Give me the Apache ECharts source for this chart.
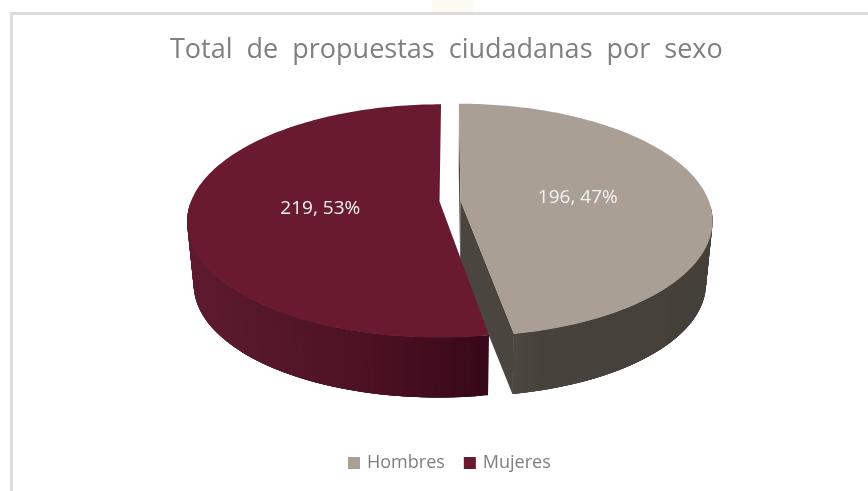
<!DOCTYPE html>
<html>
<head>
<meta charset="utf-8">
<script src="https://cdn.jsdelivr.net/npm/echarts@6/dist/echarts.min.js"></script>
<style>
  html, body { margin: 0; padding: 0; background: #fff; }
  #chart { width: 868px; height: 491px; }
</style>
</head>
<body>
<div id="chart"></div>
<script>
const categories = ['Hombres', 'Mujeres'];
const values = [196, 219];
const topColors = ['#A99F94', '#6A1A2E'];
const faceColors = ['#4A463F', null];
const wallStops = [
  ['#5A564E', '#47433C', '#46423B', '#45413A'],
  ['#5E1B30', '#541628', '#4A1022', '#38091A']
];
const labelRadius = [0.478, 0.478];

const total = values.reduce((a, b) => a + b, 0);

// pie disc seen in perspective
const view = { cx: 450, cy: 201, a: 248.4, b: 113.2, k: 0.1674, explode: 0.0423 };
const base = { scale: 0.975, drop: 63.4 };

function project(u, v, scale, drop) {
  const w = 1 - view.k * v;
  return [
    view.cx + scale * view.a * u / w,
    view.cy + drop + scale * view.b * v / w
  ];
}

function buildSlice(index) {
  let before = 0;
  for (let i = 0; i < index; i++) before += values[i];
  const start = before / total * Math.PI * 2;
  const end = (before + values[index]) / total * Math.PI * 2;
  const mid = (start + end) / 2;
  const du = Math.sin(mid) * view.explode;
  const dv = -Math.cos(mid) * view.explode;

  const onDisc = (angle, r, scale, drop) =>
    project(du + r * Math.sin(angle), dv - r * Math.cos(angle), scale, drop);

  const topArc = [];
  const baseArc = [];
  const angles = [];
  const steps = 160;
  for (let i = 0; i <= steps; i++) {
    const t = start + (end - start) * i / steps;
    angles.push(t);
    topArc.push(onDisc(t, 1, 1, 0));
    baseArc.push(onDisc(t, 1, base.scale, base.drop));
  }
  const apexTop = onDisc(mid, 0, 1, 0);
  const apexBase = onDisc(mid, 0, base.scale, base.drop);

  const children = [];
  if (faceColors[index]) {
    children.push(
      { type: 'polygon', shape: { points: [apexTop, topArc[0], baseArc[0], apexBase] },
        style: { fill: faceColors[index] } },
      { type: 'polygon', shape: { points: [apexTop, topArc[steps], baseArc[steps], apexBase] },
        style: { fill: faceColors[index] } }
    );
  }

  // outer wall, strips overlap the next one so no seams show
  const xs = topArc.map(p => p[0]);
  const minX = Math.min(...xs);
  const maxX = Math.max(...xs);
  const overlap = 4;
  for (let i = 0; i < steps; i++) {
    if (-Math.cos(angles[i]) < 0.05 && -Math.cos(angles[i + 1]) < 0.05) continue;
    const j = Math.min(i + overlap, steps);
    const frac = (topArc[i][0] - minX) / (maxX - minX);
    children.push({
      type: 'polygon',
      shape: { points: [topArc[i], topArc[j], baseArc[j], baseArc[i]] },
      style: { fill: echarts.color.lerp(frac, wallStops[index]) }
    });
  }

  children.push({
    type: 'polygon',
    shape: { points: [apexTop].concat(topArc) },
    style: { fill: topColors[index] }
  });

  const label = values[index] + ', ' + Math.round(values[index] / total * 100) + '%';
  const labelPos = onDisc(mid, labelRadius[index], 1, 0);
  children.push({
    type: 'text', x: labelPos[0], y: labelPos[1] + 2,
    style: { text: label, fill: '#F2F2F2', font: '19px "Open Sans"', align: 'center', verticalAlign: 'middle' }
  });

  return { type: 'group', children: children };
}

const chart = echarts.init(document.getElementById('chart'), null, { renderer: 'canvas' });
chart.setOption({
  animation: false,
  backgroundColor: '#fff',
  title: {
    text: 'Total  de  propuestas  ciudadanas  por  sexo',
    left: 165,
    top: 32,
    textStyle: { color: '#7F7F7F', fontSize: 27, fontWeight: 'normal', fontFamily: 'Open Sans' }
  },
  legend: {
    data: categories,
    left: 343,
    top: 449,
    icon: 'rect',
    itemWidth: 12,
    itemHeight: 12,
    itemGap: 19,
    selectedMode: false,
    textStyle: { color: '#7F7F7F', fontSize: 18, fontFamily: 'Open Sans', padding: [0, 0, 0, 2] }
  },
  graphic: [
    // outer frame, open at right and bottom
    { type: 'rect', shape: { x: 10, y: 12, width: 858, height: 3 }, style: { fill: '#DCDCDC' } },
    { type: 'rect', shape: { x: 10, y: 12, width: 3, height: 479 }, style: { fill: '#DCDCDC' } },
    { type: 'rect', shape: { x: 432, y: 0, width: 41, height: 12 }, style: { fill: '#FBFAF3' } }
  ],
  series: categories.map((name, i) => ({
    name: name,
    type: 'custom',
    coordinateSystem: 'none',
    silent: true,
    itemStyle: { color: topColors[i] },
    data: [values[i]],
    renderItem: () => buildSlice(i)
  }))
});
</script>
</body>
</html>
